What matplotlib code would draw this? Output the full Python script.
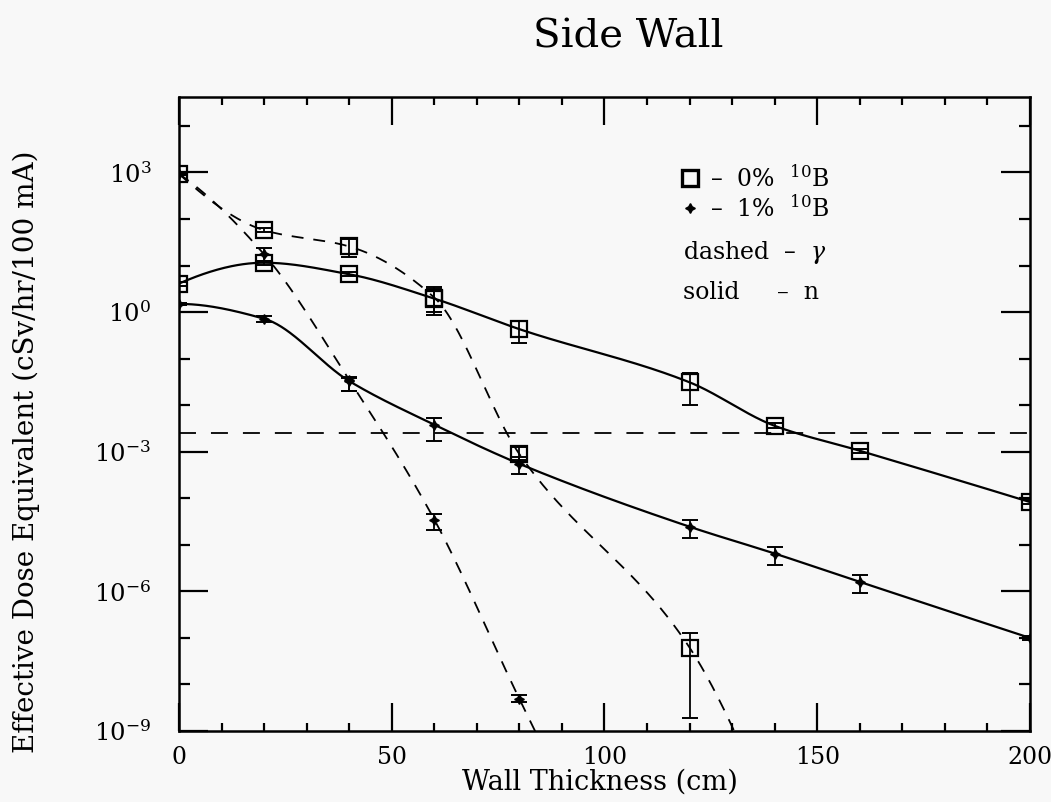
import numpy as np
import matplotlib
matplotlib.use('Agg')
import matplotlib.pyplot as plt
from matplotlib.ticker import FixedLocator, FuncFormatter

# === DADOS ===
# 0% 10B - neutrons (linha cheia, quadrados)
x_n0 = [0, 20, 40, 60, 80, 120, 140, 160, 200]
n0 = [4.1, 11.5, 6.5, 1.95, 0.43, 0.031, 0.0036, 0.00105, 8.3e-5]
n0_lo = [3.7, 10.3, 5.9, 0.87, 0.22, 0.0102, 0.0032, 0.00094, 7.4e-5]
n0_hi = [4.5, 12.8, 7.2, 3.4, 0.63, 0.050, 0.0041, 0.00117, 9.3e-5]

# 1% 10B - neutrons (linha cheia, estrelas)
x_n1 = [0, 20, 40, 60, 80, 120, 140, 160, 200]
n1 = [1.5, 0.72, 0.033, 0.0038, 5.5e-4, 2.45e-5, 6.5e-6, 1.6e-6, 1.0e-7]
n1_lo = [1.4, 0.62, 0.020, 0.00174, 3.3e-4, 1.38e-5, 3.7e-6, 9.3e-7, 0.92e-7]
n1_hi = [1.6, 0.83, 0.039, 0.0052, 7.8e-4, 3.5e-5, 8.9e-6, 2.2e-6, 1.08e-7]

# 0% 10B - gama (tracejado, quadrados)
x_g0 = [0, 20, 40, 60, 80, 120, 140]
g0 = [930, 57.5, 25.7, 2.05, 8.9e-4, 6.2e-8, 1e-11]
g0_lo = [880, 52, 15.5, 1.0, 6.5e-4, 1.86e-9, 1e-11]
g0_hi = [980, 63, 36.3, 3.2, 1.25e-3, 1.26e-7, 1e-11]

# 1% 10B - gama (tracejado, estrelas)
x_g1 = [0, 20, 40, 60, 80, 100]
g1 = [930, 17.4, 0.035, 3.5e-5, 4.9e-9, 1e-12]
g1_lo = [880, 12.3, 0.020, 2.1e-5, 4.1e-9, 1e-12]
g1_hi = [980, 24.0, 0.040, 4.7e-5, 5.9e-9, 1e-12]

# limite horizontal (tracejado)
limite = 2.5e-3

y_major = [1e-9, 1e-6, 1e-3, 1e0, 1e3]
y_minor = [10.0 ** k for k in range(-9, 5)]
x_major = [0, 50, 100, 150, 200]
x_minor = list(range(0, 201, 10))


def pchip(x, y, xs):
    # interpolacao cubica monotona (em escala log)
    x = np.asarray(x, float)
    y = np.asarray(y, float)
    h = np.diff(x)
    d = np.diff(y) / h
    n = len(x)
    m = np.zeros(n)
    for k in range(1, n - 1):
        if d[k - 1] * d[k] > 0:
            w1 = 2 * h[k] + h[k - 1]
            w2 = h[k] + 2 * h[k - 1]
            m[k] = (w1 + w2) / (w1 / d[k - 1] + w2 / d[k])
    for i, (h0, h1, d0, d1) in ((0, (h[0], h[1], d[0], d[1])),
                                 (n - 1, (h[-1], h[-2], d[-1], d[-2]))):
        mm = ((2 * h0 + h1) * d0 - h0 * d1) / (h0 + h1)
        if np.sign(mm) != np.sign(d0):
            mm = 0.0
        elif np.sign(d0) != np.sign(d1) and abs(mm) > abs(3 * d0):
            mm = 3 * d0
        m[i] = mm
    idx = np.clip(np.searchsorted(x, xs) - 1, 0, n - 2)
    t = (xs - x[idx]) / h[idx]
    h00 = 2 * t**3 - 3 * t**2 + 1
    h10 = t**3 - 2 * t**2 + t
    h01 = -2 * t**3 + 3 * t**2
    h11 = t**3 - t**2
    return (h00 * y[idx] + h10 * h[idx] * m[idx]
            + h01 * y[idx + 1] + h11 * h[idx] * m[idx + 1])


def curva(ax, x, y, **kw):
    xs = np.linspace(x[0], x[-1], 600)
    ys = 10 ** pchip(x, np.log10(y), xs)
    ax.plot(xs, ys, color='black', **kw)


def pontos(ax, x, y, lo, hi, marker, ms, mfc, mew):
    y = np.asarray(y)
    err = [y - np.asarray(lo), np.asarray(hi) - y]
    ax.errorbar(x, y, yerr=err, fmt='none', ecolor='black',
                elinewidth=1.3, capsize=5.5, capthick=1.4)
    ax.plot(x, y, linestyle='none', marker=marker, ms=ms, mfc=mfc,
            mec='black', mew=mew, color='black')


plt.rcParams['font.family'] = ['DejaVu Serif']
plt.rcParams['mathtext.fontset'] = 'dejavuserif'

fig = plt.figure(figsize=(10.51, 8.02), dpi=100, facecolor='#f8f8f8')
ax = fig.add_axes([0.1703, 0.0885, 0.8097, 0.7905])
ax.set_facecolor('#f8f8f8')

solido = dict(lw=1.6, linestyle='-')
tracejado = dict(lw=1.3, linestyle=(0, (6.6, 5.5)))

curva(ax, x_n0, n0, **solido)
curva(ax, x_n1, n1, **solido)
curva(ax, x_g0, g0, **tracejado)
curva(ax, x_g1, g1, **tracejado)
ax.axhline(limite, color='black', lw=1.3, linestyle=(0, (9.4, 8.3)))

estrela = (4, 1, 0)
pontos(ax, x_n0, n0, n0_lo, n0_hi, 's', 11.5, 'none', 1.6)
pontos(ax, x_g0, g0, g0_lo, g0_hi, 's', 11.5, 'none', 1.6)
pontos(ax, x_n1, n1, n1_lo, n1_hi, estrela, 7, 'black', 1.0)
pontos(ax, x_g1, g1, g1_lo, g1_hi, estrela, 7, 'black', 1.0)

ax.set_yscale('log')
ax.set_xlim(0, 200)
ax.set_ylim(1e-9, 10 ** 4.62)

ax.yaxis.set_major_locator(FixedLocator(y_major))
ax.yaxis.set_minor_locator(FixedLocator(y_minor))
ax.yaxis.set_major_formatter(FuncFormatter(
    lambda v, p: r'$10^{%d}$' % int(round(np.log10(v)))))
ax.yaxis.set_minor_formatter(FuncFormatter(lambda v, p: ''))
ax.xaxis.set_major_locator(FixedLocator(x_major))
ax.xaxis.set_minor_locator(FixedLocator(x_minor))

ax.tick_params(which='both', direction='in', top=True, right=True,
               color='black', width=1.6)
ax.tick_params(axis='y', which='major', length=21, pad=20, labelsize=17.5)
ax.tick_params(axis='y', which='minor', length=8)
ax.tick_params(axis='x', which='major', length=20, pad=11, labelsize=17)
ax.tick_params(axis='x', which='minor', length=6)
for s in ax.spines.values():
    s.set_linewidth(1.8)

ax.set_xlabel('Wall Thickness (cm)', fontsize=19.5)
ax.xaxis.set_label_coords(0.495, -0.059)
ax.set_ylabel('Effective Dose Equivalent (cSv/hr/100 mA)', fontsize=20)
ax.yaxis.set_label_coords(-0.163, 0.44)

fig.text(0.598, 0.954, 'Side Wall', fontsize=29, ha='center', va='center')

# legenda manual
ax.plot([0.600], [0.872], transform=ax.transAxes, marker='s', ms=11,
        mfc='none', mec='black', mew=2.4, clip_on=False)
ax.text(0.624, 0.872, r'–  0%  $^{10}$B', transform=ax.transAxes,
        fontsize=17, va='center')
ax.plot([0.600], [0.825], transform=ax.transAxes, marker=estrela, ms=7,
        color='black', clip_on=False)
ax.text(0.624, 0.825, r'–  1%  $^{10}$B', transform=ax.transAxes,
        fontsize=17, va='center')
ax.text(0.592, 0.7555, r'dashed  –  $\gamma$', transform=ax.transAxes,
        fontsize=17, va='center')
ax.text(0.592, 0.692, 'solid     –  n', transform=ax.transAxes,
        fontsize=17, va='center')

fig.savefig('out.png', dpi=100, facecolor=fig.get_facecolor())
